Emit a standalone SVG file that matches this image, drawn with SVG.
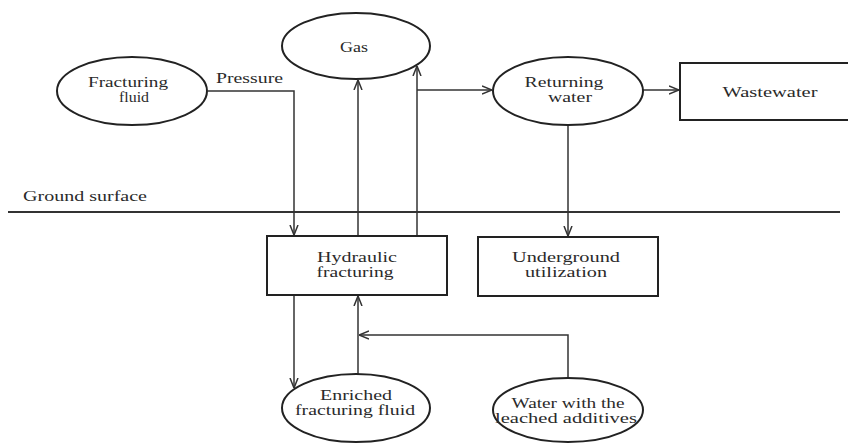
<svg xmlns="http://www.w3.org/2000/svg" width="848" height="443" viewBox="0 0 848 443">
<style>
text{font-family:'Liberation Serif','Times New Roman',serif;font-size:15px;fill:#2a2a2a;text-anchor:middle}
.n{fill:#fff;stroke:#222;stroke-width:2}
.c{fill:none;stroke:#333;stroke-width:1.5}
</style>
<defs>
<marker id="a" viewBox="0 0 10 10" refX="10" refY="5" markerWidth="10" markerHeight="10" markerUnits="userSpaceOnUse" orient="auto">
<path d="M0,1 L10,5 L0,9" fill="none" stroke="#333" stroke-width="1.5"/>
</marker>
</defs>
<rect width="848" height="443" fill="#fff"/>
<g font-family="Liberation Serif, Times New Roman, serif">
<g id="ground">
<line x1="8" y1="212" x2="840" y2="212" stroke="#333" stroke-width="2"/>
<text x="85" y="201" textLength="124" lengthAdjust="spacingAndGlyphs">Ground surface</text>
</g>
<g id="connectors">
<polyline class="c" points="208,91 294,91 294,235" marker-end="url(#a)"/>
<text x="249.5" y="83" textLength="67" lengthAdjust="spacingAndGlyphs">Pressure</text>
<line class="c" x1="358" y1="236" x2="358" y2="80" marker-end="url(#a)"/>
<line class="c" x1="417" y1="236" x2="417" y2="66" marker-end="url(#a)"/>
<line class="c" x1="417" y1="90" x2="492" y2="90" marker-end="url(#a)"/>
<line class="c" x1="643" y1="90" x2="679" y2="90" marker-end="url(#a)"/>
<line class="c" x1="568" y1="125" x2="568" y2="236" marker-end="url(#a)"/>
<line class="c" x1="294" y1="295" x2="294" y2="388" marker-end="url(#a)"/>
<line class="c" x1="358" y1="374" x2="358" y2="296" marker-end="url(#a)"/>
<polyline class="c" points="568,378 568,335 359,335" marker-end="url(#a)"/>
</g>
<g id="fracturing-fluid">
<ellipse class="n" cx="132" cy="91" rx="75" ry="34"/>
<text x="128" y="87" textLength="80" lengthAdjust="spacingAndGlyphs">Fracturing</text>
<text x="134" y="102" textLength="30" lengthAdjust="spacingAndGlyphs">fluid</text>
</g>
<g id="gas">
<ellipse class="n" cx="356" cy="46" rx="74" ry="33"/>
<text x="354" y="52" textLength="28" lengthAdjust="spacingAndGlyphs">Gas</text>
</g>
<g id="returning-water">
<ellipse class="n" cx="568" cy="91" rx="75" ry="34"/>
<text x="564" y="87" textLength="79" lengthAdjust="spacingAndGlyphs">Returning</text>
<text x="570" y="102" textLength="44" lengthAdjust="spacingAndGlyphs">water</text>
</g>
<g id="wastewater">
<rect class="n" x="680" y="63" width="180" height="57"/>
<text x="770" y="97" textLength="95" lengthAdjust="spacingAndGlyphs">Wastewater</text>
</g>
<g id="hydraulic-fracturing">
<rect class="n" x="267" y="236" width="180" height="59"/>
<text x="357" y="262" textLength="80" lengthAdjust="spacingAndGlyphs">Hydraulic</text>
<text x="355" y="277" textLength="77" lengthAdjust="spacingAndGlyphs">fracturing</text>
</g>
<g id="underground-utilization">
<rect class="n" x="478" y="237" width="180" height="59"/>
<text x="566" y="262" textLength="108" lengthAdjust="spacingAndGlyphs">Underground</text>
<text x="566" y="277" textLength="82" lengthAdjust="spacingAndGlyphs">utilization</text>
</g>
<g id="enriched-fracturing-fluid">
<ellipse class="n" cx="356" cy="408" rx="74" ry="34"/>
<text x="356" y="400" textLength="72" lengthAdjust="spacingAndGlyphs">Enriched</text>
<text x="355" y="415" textLength="120" lengthAdjust="spacingAndGlyphs">fracturing fluid</text>
</g>
<g id="water-leached-additives">
<ellipse class="n" cx="568" cy="410" rx="75" ry="32"/>
<text x="568" y="408" textLength="113" lengthAdjust="spacingAndGlyphs">Water with the</text>
<text x="566" y="423" textLength="142" lengthAdjust="spacingAndGlyphs">leached additives</text>
</g>
</g>
</svg>
